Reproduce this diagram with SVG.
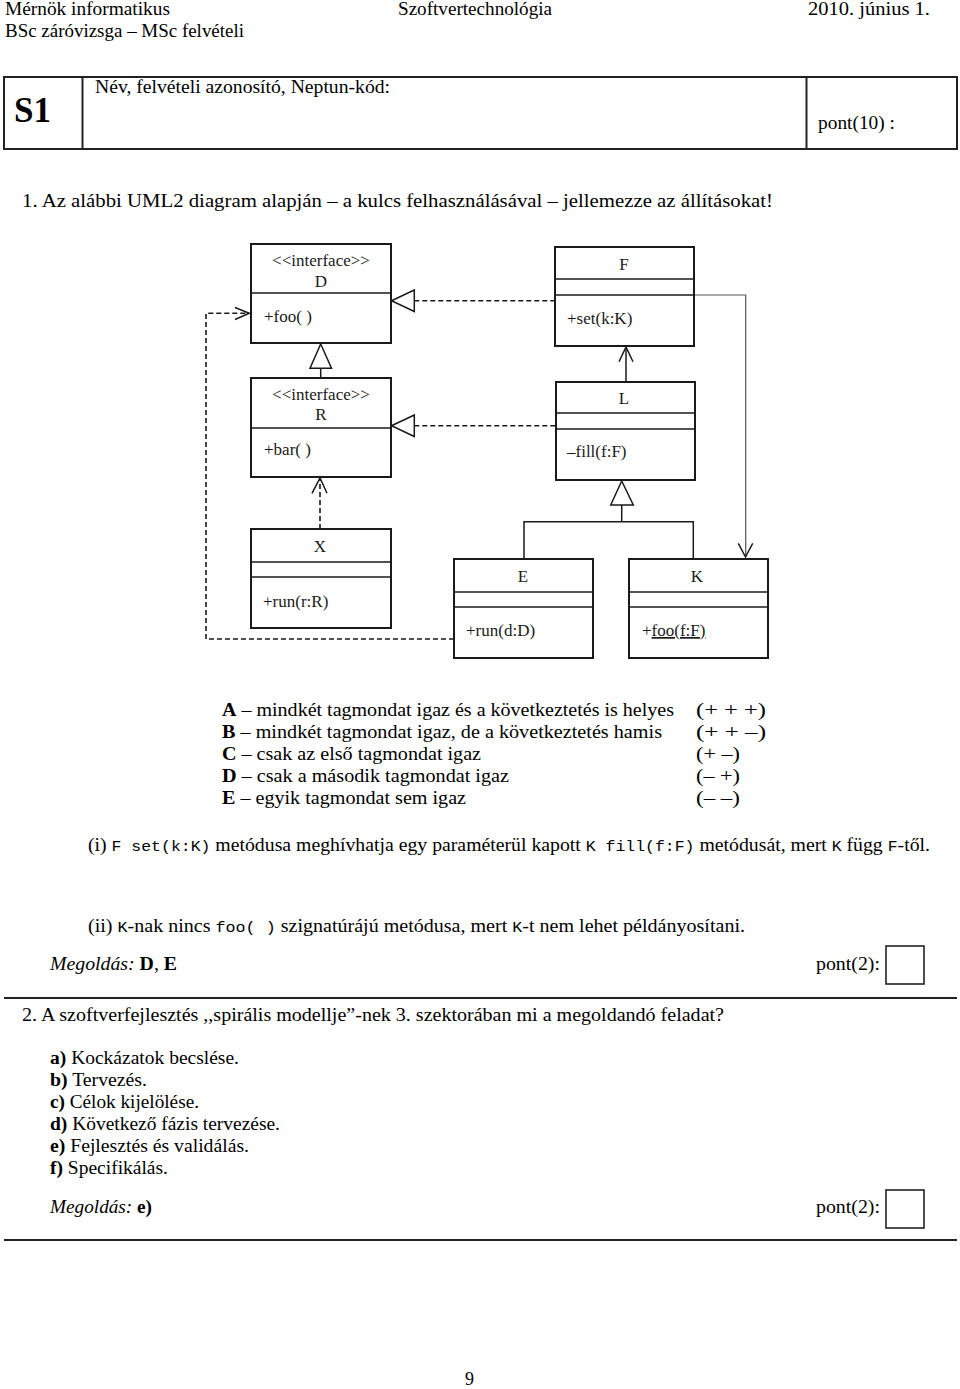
<svg xmlns="http://www.w3.org/2000/svg" width="960" height="1389" viewBox="0 0 960 1389">
<style>
text{font-family:"Liberation Serif","DejaVu Serif",serif;fill:#000}
.h{font-size:18px}
.b{font-size:18px}
.m{font-family:"Liberation Mono","DejaVu Sans Mono",monospace;font-size:15px}
.bd{font-weight:bold}
.it{font-style:italic}
.u{font-size:17px;fill:#1a1a1a}
.c{text-anchor:middle}
.box{fill:#fff;stroke:#1a1a1a;stroke-width:2}
.div{stroke:#1a1a1a;stroke-width:1.6}
.ln{fill:none;stroke:#1a1a1a;stroke-width:1.5}
.ds{fill:none;stroke:#1a1a1a;stroke-width:1.6;stroke-dasharray:5 3}
.gr{fill:none;stroke:#555;stroke-width:1.2}
.tri{fill:#fff;stroke:#1a1a1a;stroke-width:1.5}
.frame{fill:none;stroke:#222;stroke-width:2}
</style>

<!-- header -->
<g id="header">
<text class="h" x="5" y="15" textLength="165" lengthAdjust="spacingAndGlyphs">Mérnök informatikus</text>
<text class="h" x="398" y="15" textLength="154" lengthAdjust="spacingAndGlyphs">Szoftvertechnológia</text>
<text class="h" x="808" y="15" textLength="122" lengthAdjust="spacingAndGlyphs">2010. június 1.</text>
<text class="h" x="5" y="37" textLength="239" lengthAdjust="spacingAndGlyphs">BSc záróvizsga – MSc felvételi</text>
</g>

<g id="s1box">
<rect class="frame" x="4" y="77" width="953" height="72"/>
<line class="frame" x1="82.5" y1="77" x2="82.5" y2="149"/>
<line class="frame" x1="806.5" y1="77" x2="806.5" y2="149"/>
<text class="bd" x="14" y="121.5" font-size="35" textLength="37" lengthAdjust="spacingAndGlyphs">S1</text>
<text class="b" x="95" y="93" textLength="295" lengthAdjust="spacingAndGlyphs">Név, felvételi azonosító, Neptun-kód:</text>
<text class="b" x="818" y="129" textLength="77" lengthAdjust="spacingAndGlyphs">pont(10) :</text>
</g>

<text class="b" x="22" y="207" textLength="751" lengthAdjust="spacingAndGlyphs">1. Az alábbi UML2 diagram alapján – a kulcs felhasználásával – jellemezze az állításokat!</text>

<!-- connectors -->
<g id="connectors">
<line class="ds" x1="414.3" y1="300.7" x2="555" y2="300.7"/>
<polygon class="tri" points="391.5,300.7 414.3,290 414.3,311.5"/>
<line class="ds" x1="414.3" y1="425.7" x2="556" y2="425.7"/>
<polygon class="tri" points="391.5,425.7 414.3,415 414.3,436.5"/>
<line class="ln" x1="320.7" y1="368.3" x2="320.7" y2="378"/>
<polygon class="tri" points="320.7,344 310,368.3 331.5,368.3"/>
<line class="ln" x1="626" y1="346" x2="626" y2="382"/>
<polyline class="ln" points="619,361.7 626,347 633,361.7"/>
<line class="ds" x1="320" y1="529" x2="320" y2="479"/>
<polyline class="ln" points="312,493.3 320,478 327,493.3"/>
<polyline class="ds" points="454,639 206,639 206,313.3 249,313.3"/>
<polyline class="ln" points="235,307.5 249.3,313.3 235,319.5"/>
<polygon class="tri" points="621.7,481 610.7,505 633.3,505"/>
<polyline class="ln" points="621.7,505 621.7,521.7"/>
<polyline class="ln" points="524,559 524,521.7 693.3,521.7 693.3,559"/>
<polyline class="gr" points="694.3,295 745.7,295 745.7,557"/>
<polyline class="ln" points="738.3,543.3 745.5,557 752.7,543.3"/>
</g>

<!-- nodes -->
<g id="node-D">
<rect class="box" x="251" y="244" width="140" height="99"/>
<line class="div" x1="251" y1="293" x2="391" y2="293"/>
<text class="u c" x="321" y="266">&lt;&lt;interface&gt;&gt;</text>
<text class="u c" x="321" y="287">D</text>
<text class="u" x="264" y="322">+foo( )</text>
</g>
<g id="node-R">
<rect class="box" x="251" y="378" width="140" height="99"/>
<line class="div" x1="251" y1="428" x2="391" y2="428"/>
<text class="u c" x="321" y="400">&lt;&lt;interface&gt;&gt;</text>
<text class="u c" x="321" y="420">R</text>
<text class="u" x="264" y="455">+bar( )</text>
</g>
<g id="node-F">
<rect class="box" x="555" y="247" width="139" height="99"/>
<line class="div" x1="555" y1="279" x2="694" y2="279"/>
<line class="div" x1="555" y1="295" x2="694" y2="295"/>
<text class="u c" x="624" y="270">F</text>
<text class="u" x="567" y="324">+set(k:K)</text>
</g>
<g id="node-L">
<rect class="box" x="556" y="382" width="139" height="98"/>
<line class="div" x1="556" y1="413" x2="695" y2="413"/>
<line class="div" x1="556" y1="429" x2="695" y2="429"/>
<text class="u c" x="624" y="404">L</text>
<text class="u" x="567" y="457">–fill(f:F)</text>
</g>
<g id="node-X">
<rect class="box" x="251" y="529" width="140" height="99"/>
<line class="div" x1="251" y1="562" x2="391" y2="562"/>
<line class="div" x1="251" y1="577" x2="391" y2="577"/>
<text class="u c" x="320" y="552">X</text>
<text class="u" x="263" y="607">+run(r:R)</text>
</g>
<g id="node-E">
<rect class="box" x="454" y="559" width="139" height="99"/>
<line class="div" x1="454" y1="592" x2="593" y2="592"/>
<line class="div" x1="454" y1="607" x2="593" y2="607"/>
<text class="u c" x="523" y="582">E</text>
<text class="u" x="466" y="636">+run(d:D)</text>
</g>
<g id="node-K">
<rect class="box" x="629" y="559" width="139" height="99"/>
<line class="div" x1="629" y1="592" x2="768" y2="592"/>
<line class="div" x1="629" y1="607" x2="768" y2="607"/>
<text class="u c" x="697" y="582">K</text>
<text class="u" x="642" y="636">+<tspan text-decoration="underline">foo(f:F)</tspan></text>
</g>

<!-- key -->
<g id="key">
<text class="b" x="222" y="716" textLength="452" lengthAdjust="spacingAndGlyphs"><tspan class="bd">A</tspan> – mindkét tagmondat igaz és a következtetés is helyes</text>
<text class="b" x="696" y="716" textLength="70" lengthAdjust="spacingAndGlyphs">(+ + +)</text>
<text class="b" x="222" y="738" textLength="440" lengthAdjust="spacingAndGlyphs"><tspan class="bd">B</tspan> – mindkét tagmondat igaz, de a következtetés hamis</text>
<text class="b" x="696" y="738" textLength="70" lengthAdjust="spacingAndGlyphs">(+ + –)</text>
<text class="b" x="222" y="760" textLength="259" lengthAdjust="spacingAndGlyphs"><tspan class="bd">C</tspan> – csak az első tagmondat igaz</text>
<text class="b" x="696" y="760" textLength="44" lengthAdjust="spacingAndGlyphs">(+ –)</text>
<text class="b" x="222" y="782" textLength="287" lengthAdjust="spacingAndGlyphs"><tspan class="bd">D</tspan> – csak a második tagmondat igaz</text>
<text class="b" x="696" y="782" textLength="44" lengthAdjust="spacingAndGlyphs">(– +)</text>
<text class="b" x="222" y="804" textLength="244" lengthAdjust="spacingAndGlyphs"><tspan class="bd">E</tspan> – egyik tagmondat sem igaz</text>
<text class="b" x="696" y="804" textLength="44" lengthAdjust="spacingAndGlyphs">(– –)</text>
</g>

<text class="b" x="88" y="851" textLength="842" lengthAdjust="spacingAndGlyphs">(i) <tspan class="m">F set(k:K)</tspan> metódusa meghívhatja egy paraméterül kapott <tspan class="m">K fill(f:F)</tspan> metódusát, mert <tspan class="m">K</tspan> függ <tspan class="m">F</tspan>-től.</text>

<text class="b" x="88" y="932" textLength="657" lengthAdjust="spacingAndGlyphs">(ii) <tspan class="m">K</tspan>-nak nincs <tspan class="m">foo( )</tspan> szignatúrájú metódusa, mert <tspan class="m">K</tspan>-t nem lehet példányosítani.</text>

<text class="b" x="50" y="970" textLength="127" lengthAdjust="spacingAndGlyphs"><tspan class="it">Megoldás:</tspan> <tspan class="bd">D</tspan>, <tspan class="bd">E</tspan></text>
<text class="b" x="816" y="970" textLength="64" lengthAdjust="spacingAndGlyphs">pont(2):</text>
<rect x="886" y="946" width="38" height="38" fill="none" stroke="#222" stroke-width="1.6"/>
<line x1="4" y1="998" x2="957" y2="998" stroke="#222" stroke-width="2"/>

<text class="b" x="22" y="1021" textLength="702" lengthAdjust="spacingAndGlyphs">2. A szoftverfejlesztés ,,spirális modellje”-nek 3. szektorában mi a megoldandó feladat?</text>

<g id="options">
<text class="b" x="50" y="1064" textLength="189" lengthAdjust="spacingAndGlyphs"><tspan class="bd">a)</tspan> Kockázatok becslése.</text>
<text class="b" x="50" y="1086" textLength="97" lengthAdjust="spacingAndGlyphs"><tspan class="bd">b)</tspan> Tervezés.</text>
<text class="b" x="50" y="1108" textLength="149" lengthAdjust="spacingAndGlyphs"><tspan class="bd">c)</tspan> Célok kijelölése.</text>
<text class="b" x="50" y="1130" textLength="230" lengthAdjust="spacingAndGlyphs"><tspan class="bd">d)</tspan> Következő fázis tervezése.</text>
<text class="b" x="50" y="1152" textLength="199" lengthAdjust="spacingAndGlyphs"><tspan class="bd">e)</tspan> Fejlesztés és validálás.</text>
<text class="b" x="50" y="1174" textLength="118" lengthAdjust="spacingAndGlyphs"><tspan class="bd">f)</tspan> Specifikálás.</text>
</g>

<text class="b" x="50" y="1213" textLength="102" lengthAdjust="spacingAndGlyphs"><tspan class="it">Megoldás:</tspan> <tspan class="bd">e)</tspan></text>
<text class="b" x="816" y="1213" textLength="64" lengthAdjust="spacingAndGlyphs">pont(2):</text>
<rect x="886" y="1190" width="38" height="38" fill="none" stroke="#222" stroke-width="1.6"/>
<line x1="4" y1="1240" x2="957" y2="1240" stroke="#222" stroke-width="2"/>

<text class="b" x="465" y="1385">9</text>
</svg>
